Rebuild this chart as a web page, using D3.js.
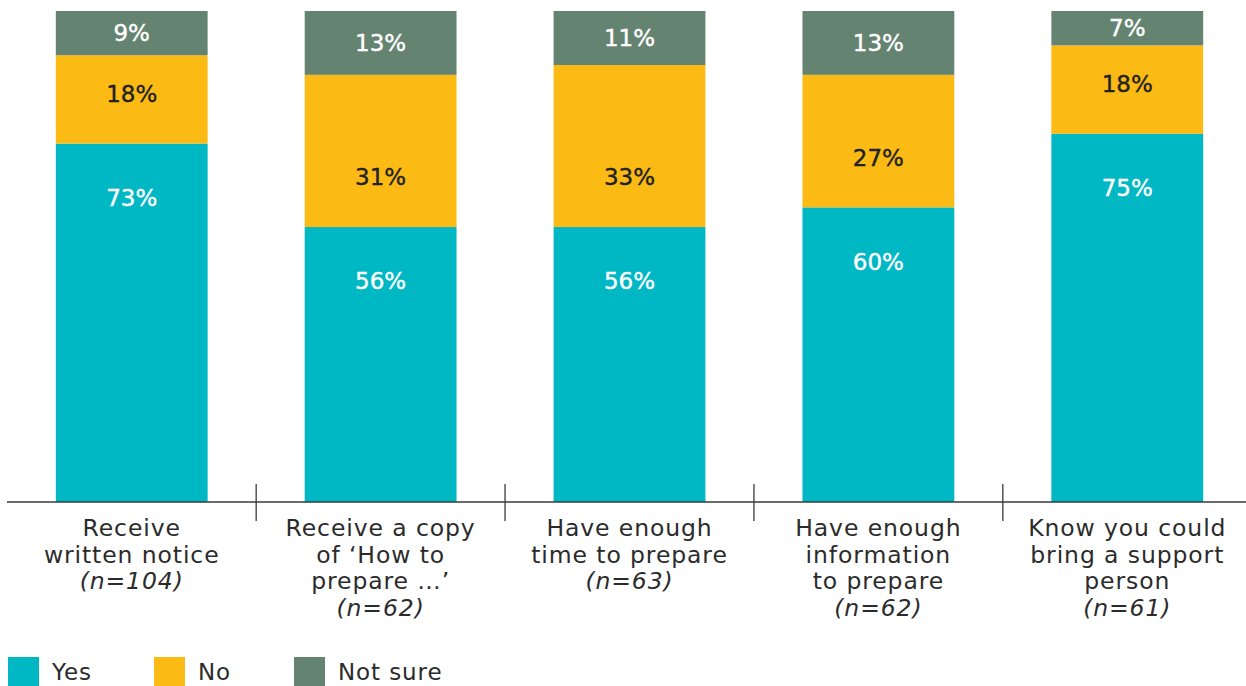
<!DOCTYPE html>
<html>
<head>
<meta charset="utf-8">
<script src="https://cdn.jsdelivr.net/npm/d3@7/dist/d3.min.js"></script>
<style>
  html, body { margin: 0; padding: 0; background: #fff; }
  svg { display: block; font-family: "DejaVu Sans", "Noto Sans", sans-serif; }
</style>
</head>
<body>
<svg id="chart" width="1246" height="686"></svg>
<script>
// Category labels (each entry is a list of lines; the last line is the sample size)
const categories = [
  ["Receive", "written notice", "(n=104)"],
  ["Receive a copy", "of \u2018How to", "prepare \u2026\u2019", "(n=62)"],
  ["Have enough", "time to prepare", "(n=63)"],
  ["Have enough", "information", "to prepare", "(n=62)"],
  ["Know you could", "bring a support", "person", "(n=61)"]
];
const seriesNames = ["Yes", "No", "Not sure"];
const yesValues = [73, 56, 56, 60, 75];
const noValues = [18, 31, 33, 27, 18];
const notSureValues = [9, 13, 11, 13, 7];
const colors = ["#00b7c4", "#fbba14", "#658371"];
const labelColors = ["#ffffff", "#222222", "#ffffff"];

const svg = d3.select("#chart");
const axisLeft = 7, axisRight = 1246;
const plotTop = 11, baseline = 502;

const rows = categories.map((c, i) => ({
  key: i, Yes: yesValues[i], No: noValues[i], "Not sure": notSureValues[i]
}));
const stacked = d3.stack().keys(seriesNames)(rows);

const x = d3.scaleBand()
  .domain(d3.range(categories.length))
  .range([axisLeft + 6.5, axisRight - 0.5])
  .paddingInner(0.39)
  .paddingOuter(0.17);
const y = d3.scaleLinear().domain([0, 100]).range([baseline, plotTop]);

// bars
stacked.forEach((layer, si) => {
  svg.append("g")
    .attr("fill", colors[si])
    .selectAll("rect")
    .data(layer)
    .join("rect")
    .attr("x", (d, i) => x(i))
    .attr("y", d => y(d[1]))
    .attr("width", x.bandwidth())
    .attr("height", d => y(d[0]) - y(d[1]));
});

// value labels: Yes near the top of its segment, No near the bottom, Not sure centred
const labelY = (si, d) => {
  if (si === 0) return y(d[1]) + 54;
  if (si === 1) return y(d[0]) - 50;
  return (y(d[0]) + y(d[1])) / 2;
};
stacked.forEach((layer, si) => {
  svg.append("g")
    .selectAll("text")
    .data(layer)
    .join("text")
    .attr("x", (d, i) => x(i) + x.bandwidth() / 2)
    .attr("y", d => labelY(si, d))
    .attr("dy", "0.36em")
    .attr("text-anchor", "middle")
    .attr("font-size", 23)
    .attr("fill", labelColors[si])
    .attr("stroke", labelColors[si])
    .attr("stroke-width", 0.4)
    .text(d => (d[1] - d[0]) + "%");
});

// baseline and category separators
svg.append("line")
  .attr("x1", axisLeft).attr("x2", axisRight)
  .attr("y1", baseline).attr("y2", baseline)
  .attr("stroke", "#3a3a3a").attr("stroke-width", 1.3);
const step = x.step();
svg.append("g")
  .selectAll("line")
  .data(d3.range(1, categories.length))
  .join("line")
  .attr("x1", i => x(i) - (step - x.bandwidth()) / 2)
  .attr("x2", i => x(i) - (step - x.bandwidth()) / 2)
  .attr("y1", 484).attr("y2", 521)
  .attr("stroke", "#3a3a3a").attr("stroke-width", 1.3);

// category labels
const catG = svg.append("g")
  .selectAll("text")
  .data(categories)
  .join("text")
  .attr("text-anchor", "middle")
  .attr("font-size", 23.5)
  .attr("letter-spacing", "0.9px")
  .attr("fill", "#2b2b2b");
catG.each(function (lines, i) {
  const t = d3.select(this);
  lines.forEach((line, li) => {
    const last = li === lines.length - 1;
    t.append("tspan")
      .attr("x", x(i) + x.bandwidth() / 2)
      .attr("y", 536 + li * 26.5)
      .attr("font-style", last ? "italic" : null)
      .text(line);
  });
});

// legend
const legendX = [8, 154, 294];
const leg = svg.append("g")
  .selectAll("g")
  .data(seriesNames)
  .join("g")
  .attr("transform", (d, i) => `translate(${legendX[i]},657)`);
leg.append("rect")
  .attr("width", 31).attr("height", 31)
  .attr("fill", (d, i) => colors[i]);
leg.append("text")
  .attr("x", 44).attr("y", 23)
  .attr("font-size", 23)
  .attr("letter-spacing", "0.9px")
  .attr("fill", "#2b2b2b")
  .text(d => d);
</script>
</body>
</html>
